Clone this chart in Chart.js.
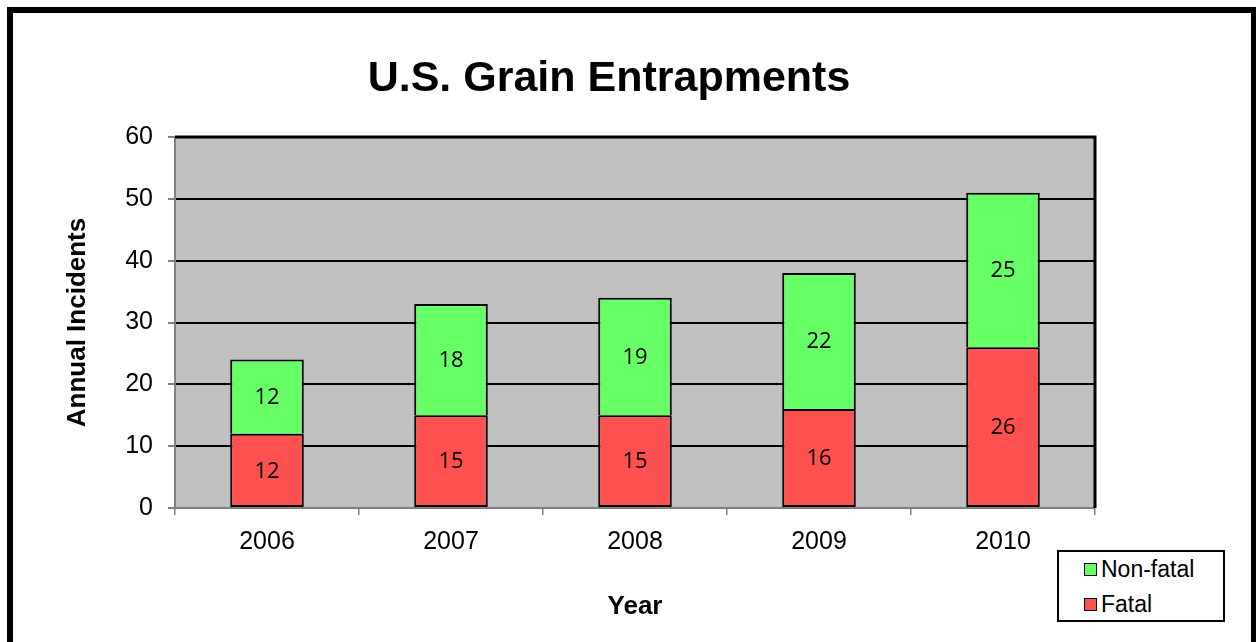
<!DOCTYPE html>
<html>
<head>
<meta charset="utf-8">
<script src="https://cdn.jsdelivr.net/npm/chart.js@4.4.0/dist/chart.umd.min.js"></script>
<style>
    body { margin: 0; background: #fff; width: 1256px; height: 642px; overflow: hidden; position: relative; }
    #frame { position: absolute; left: 7px; top: 7px; width: 1250px; height: 700px; border: 6px solid #000; box-sizing: border-box; }
    #chart { position: absolute; left: 0; top: 0; }
    #title { position: absolute; left: 0; width: 1218px; top: 52px; text-align: center; font: bold 43px "Liberation Sans", Arial, sans-serif; color: #000; }
    #legend { position: absolute; left: 1057px; top: 550px; width: 168px; height: 72px; border: 2px solid #000; box-sizing: border-box; background: #fff; font: 23px "Liberation Sans", Arial, sans-serif; }
    .legend-item { position: absolute; left: 25px; display: flex; align-items: center; }
    .legend-item span.box { width: 11px; height: 11px; border: 1.5px solid #000; margin-right: 4px; }
</style>
</head>
<body>
<div id="frame"></div>
<canvas id="chart" width="1256" height="642"></canvas>
<div id="title">U.S. Grain Entrapments</div>
<div id="legend"></div>
<script>
// Data
const years = ['2006', '2007', '2008', '2009', '2010'];
const fatal = [12, 15, 15, 16, 26];
const nonFatal = [12, 18, 19, 22, 25];
const yTicks = [0, 10, 20, 30, 40, 50, 60];

const RED = '#FF5050';
const GREEN = '#66FF66';
const PLOT_BG = '#C0C0C0';

// Gray plot background plus black top/right frame
const plotArea = {
    id: 'plotArea',
    beforeDraw(chart) {
        const { ctx, chartArea: a } = chart;
        ctx.save();
        ctx.fillStyle = PLOT_BG;
        ctx.fillRect(a.left, a.top, a.right - a.left, a.bottom - a.top);
        ctx.restore();
    },
    afterDraw(chart) {
        const { ctx, chartArea: a } = chart;
        ctx.save();
        ctx.strokeStyle = '#000';
        ctx.lineWidth = 3;
        ctx.beginPath();
        ctx.moveTo(a.left, a.top);
        ctx.lineTo(a.right, a.top);
        ctx.lineTo(a.right, a.bottom);
        ctx.stroke();
        ctx.restore();
    }
};

// Value labels in the middle of each segment
const barLabels = {
    id: 'barLabels',
    afterDatasetsDraw(chart) {
        const { ctx } = chart;
        ctx.save();
        ctx.fillStyle = '#000';
        ctx.font = '22px "Open Sans", sans-serif';
        ctx.textAlign = 'center';
        ctx.textBaseline = 'middle';
        chart.data.datasets.forEach((ds, i) => {
            chart.getDatasetMeta(i).data.forEach((bar, j) => {
                const c = bar.getCenterPoint();
                ctx.fillText(String(ds.data[j]), c.x, c.y + 1);
            });
        });
        ctx.restore();
    }
};

const chart = new Chart(document.getElementById('chart'), {
    type: 'bar',
    data: {
        labels: years,
        datasets: [
            { label: 'Fatal', data: fatal, backgroundColor: RED, borderColor: '#000', borderWidth: 2, borderSkipped: false },
            { label: 'Non-fatal', data: nonFatal, backgroundColor: GREEN, borderColor: '#000', borderWidth: 2, borderSkipped: 'start' }
        ]
    },
    options: {
        responsive: false,
        animation: false,
        devicePixelRatio: 1,
        layout: { padding: { left: 0, top: 137, right: 161, bottom: 0 } },
        datasets: { bar: { categoryPercentage: 1, barPercentage: 0.4 } },
        plugins: {
            legend: { display: false },
            tooltip: { enabled: false }
        },
        scales: {
            x: {
                stacked: true,
                offset: true,
                grid: { offset: true, drawOnChartArea: false, color: '#808080', tickLength: 7, lineWidth: 1.5 },
                border: { color: '#808080', width: 2 },
                ticks: { color: '#000', padding: 12, font: { family: '"Liberation Sans", Arial', size: 25 } },
                title: { display: true, text: 'Year', color: '#000', padding: { top: 0, bottom: 20 }, font: { family: '"Liberation Sans", Arial', size: 26, weight: 'bold' } },
                afterFit(scale) { scale.height = 134; }
            },
            y: {
                stacked: true,
                min: yTicks[0],
                max: yTicks[yTicks.length - 1],
                afterBuildTicks(scale) { scale.ticks = yTicks.map(v => ({ value: v })); },
                grid: { color: '#000', lineWidth: 2, tickColor: '#808080', tickLength: 7 },
                border: { color: '#808080', width: 2 },
                ticks: { color: '#000', padding: 15, font: { family: '"Liberation Sans", Arial', size: 25 } },
                title: { display: true, text: 'Annual Incidents', color: '#000', padding: { top: 62, bottom: 0 }, font: { family: '"Liberation Sans", Arial', size: 26, weight: 'bold' } },
                afterFit(scale) { scale.width = 175; }
            }
        }
    },
    plugins: [plotArea, barLabels]
});

// Legend box, top entry is the upper stack
const legend = document.getElementById('legend');
chart.data.datasets.slice().reverse().forEach((ds, i) => {
    const item = document.createElement('div');
    item.className = 'legend-item';
    item.style.top = (i === 0 ? 4 : 39) + 'px';
    item.innerHTML = '<span class="box" style="background:' + ds.backgroundColor + '"></span>' + ds.label;
    legend.appendChild(item);
});
</script>
</body>
</html>
